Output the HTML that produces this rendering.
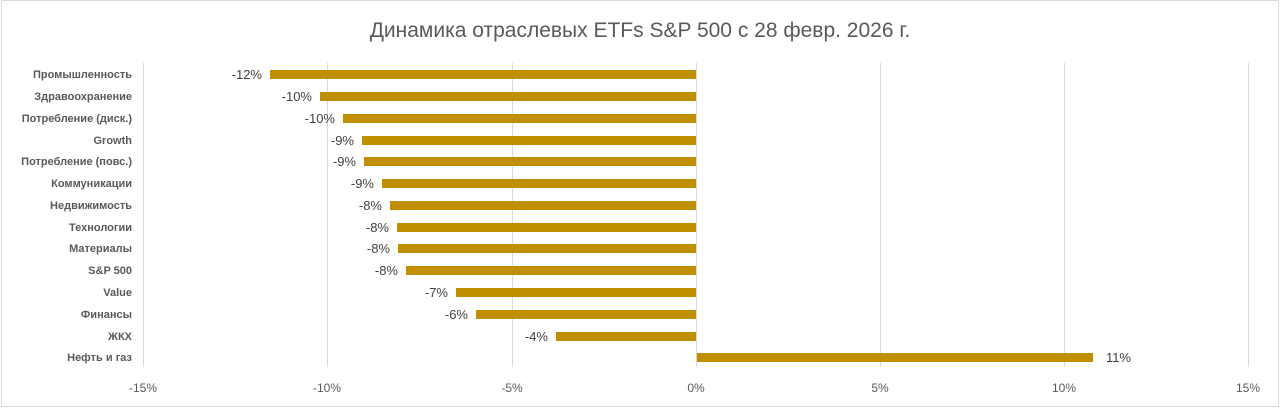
<!DOCTYPE html>
<html><head><meta charset="utf-8"><style>
html,body{margin:0;padding:0;background:#fff;}
svg{display:block;font-family:"Liberation Sans","DejaVu Sans",sans-serif;}
</style></head><body>
<svg width="1280" height="409" viewBox="0 0 1280 409" xmlns="http://www.w3.org/2000/svg">
<rect x="1.5" y="0.5" width="1277" height="406" fill="#fff" stroke="#d9d9d9"/>
<text x="640" y="37" text-anchor="middle" font-size="21" fill="#595959">Динамика отраслевых ETFs S&amp;P 500 с 28 февр. 2026 г.</text>
<g stroke="#d9d9d9" stroke-width="1">
<line x1="143.5" y1="63" x2="143.5" y2="367"/>
<line x1="327.5" y1="63" x2="327.5" y2="367"/>
<line x1="512.5" y1="63" x2="512.5" y2="367"/>
<line x1="696.5" y1="63" x2="696.5" y2="367"/>
<line x1="880.5" y1="63" x2="880.5" y2="367"/>
<line x1="1064.5" y1="63" x2="1064.5" y2="367"/>
<line x1="1248.5" y1="63" x2="1248.5" y2="367"/>
</g>
<g font-size="12" fill="#595959" text-anchor="middle">
<text x="143" y="392">-15%</text><text x="327" y="392">-10%</text><text x="512" y="392">-5%</text>
<text x="696" y="392">0%</text><text x="880" y="392">5%</text><text x="1064" y="392">10%</text><text x="1248" y="392">15%</text>
</g>
<g fill="#bf8f00">
<rect x="270" y="70" width="426" height="9"/>
<rect x="320" y="92" width="376" height="9"/>
<rect x="343" y="114" width="353" height="9"/>
<rect x="362" y="136" width="334" height="9"/>
<rect x="364" y="157" width="332" height="9"/>
<rect x="382" y="179" width="314" height="9"/>
<rect x="390" y="201" width="306" height="9"/>
<rect x="397" y="223" width="299" height="9"/>
<rect x="398" y="244" width="298" height="9"/>
<rect x="406" y="266" width="290" height="9"/>
<rect x="456" y="288" width="240" height="9"/>
<rect x="476" y="310" width="220" height="9"/>
<rect x="556" y="332" width="140" height="9"/>
<rect x="697" y="353" width="396" height="9"/>
</g>
<g font-size="11" font-weight="bold" fill="#595959" text-anchor="end">
<text x="132" y="78">Промышленность</text>
<text x="132" y="100">Здравоохранение</text>
<text x="132" y="122">Потребление (диск.)</text>
<text x="132" y="144">Growth</text>
<text x="132" y="165">Потребление (повс.)</text>
<text x="132" y="187">Коммуникации</text>
<text x="132" y="209">Недвижимость</text>
<text x="132" y="231">Технологии</text>
<text x="132" y="252">Материалы</text>
<text x="132" y="274">S&amp;P 500</text>
<text x="132" y="296">Value</text>
<text x="132" y="318">Финансы</text>
<text x="132" y="340">ЖКХ</text>
<text x="132" y="361">Нефть и газ</text>
</g>
<g font-size="13" fill="#404040" text-anchor="end">
<text x="262" y="79">-12%</text>
<text x="312" y="101">-10%</text>
<text x="335" y="123">-10%</text>
<text x="354" y="145">-9%</text>
<text x="356" y="166">-9%</text>
<text x="374" y="188">-9%</text>
<text x="382" y="210">-8%</text>
<text x="389" y="232">-8%</text>
<text x="390" y="253">-8%</text>
<text x="398" y="275">-8%</text>
<text x="448" y="297">-7%</text>
<text x="468" y="319">-6%</text>
<text x="548" y="341">-4%</text>
<text x="1131" y="362">11%</text>
</g>
</svg>
</body></html>
